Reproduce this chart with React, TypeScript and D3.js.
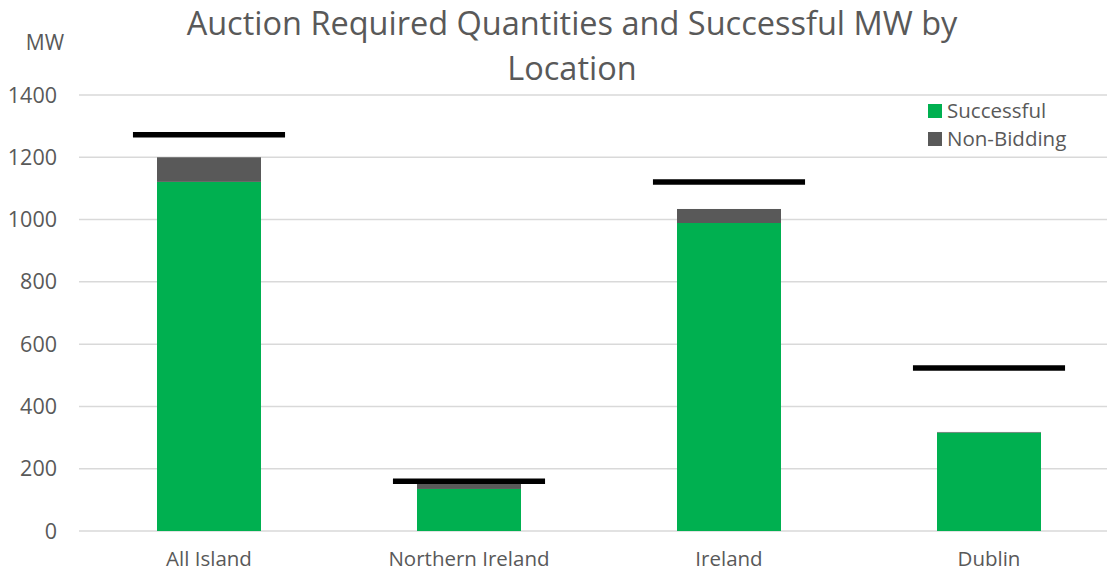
import React from "react";
import * as d3 from "d3";

const locations = ["All Island", "Northern Ireland", "Ireland", "Dublin"];
const successful = [1121, 135, 989, 316];
const nonBidding = [79, 16, 45, 2];
const required = [1272, 160, 1121, 523];
const yTicks = [0, 200, 400, 600, 800, 1000, 1200, 1400];

const W = 1107;
const H = 571;
const FONT = "'Open Sans', sans-serif";
const TEXT = "#595959";
const GREEN = "#00b050";
const GREY = "#595959";

const App = () => {
  const x = d3.scaleBand<string>().domain(locations).range([79, 1119]).paddingInner(0.6).paddingOuter(0.3);
  const y = d3.scaleLinear().domain([0, 1400]).range([531, 95]);
  const band = x.step();
  const lineW = band * 0.585;

  return (
    <svg width={W} height={H} style={{ position: "absolute", left: 0, top: 0, background: "#fff", fontVariantLigatures: "none" }}>
      <text x={572} y={35} textAnchor="middle" fontFamily={FONT} fontSize={32.5} fill={TEXT}>
        Auction Required Quantities and Successful MW by
      </text>
      <text x={572} y={80} textAnchor="middle" fontFamily={FONT} fontSize={32.5} fill={TEXT}>
        Location
      </text>
      <text x={45} y={50} textAnchor="middle" fontFamily={FONT} fontSize={21} fill={TEXT}>
        MW
      </text>

      {yTicks.map((t) => (
        <g key={t}>
          <line x1={79} x2={W} y1={y(t)} y2={y(t)} stroke="#d9d9d9" strokeWidth={1.5} />
          <text x={57} y={y(t) + 7.5} textAnchor="end" fontFamily={FONT} fontSize={21.5} fill={TEXT}>
            {t}
          </text>
        </g>
      ))}

      {locations.map((loc, i) => {
        const bx = x(loc)!;
        const bw = x.bandwidth();
        const cx = bx + bw / 2;
        return (
          <g key={loc}>
            <rect x={bx} y={y(successful[i])} width={bw} height={y(0) - y(successful[i])} fill={GREEN} />
            <rect
              x={bx}
              y={y(successful[i] + nonBidding[i])}
              width={bw}
              height={y(successful[i]) - y(successful[i] + nonBidding[i])}
              fill={GREY}
            />
            <line x1={cx - lineW / 2} x2={cx + lineW / 2} y1={y(required[i])} y2={y(required[i])} stroke="#000" strokeWidth={5.5} />
            <text x={cx} y={566} textAnchor="middle" fontFamily={FONT} fontSize={20.5} fill={TEXT}>
              {loc}
            </text>
          </g>
        );
      })}

      <rect x={928} y={104} width={14} height={14} fill={GREEN} />
      <text x={947} y={118} fontFamily={FONT} fontSize={20.5} fill={TEXT}>Successful</text>
      <rect x={928} y={132} width={14} height={14} fill={GREY} />
      <text x={947} y={146} fontFamily={FONT} fontSize={20.5} fill={TEXT}>Non-Bidding</text>
    </svg>
  );
};

export default App;
